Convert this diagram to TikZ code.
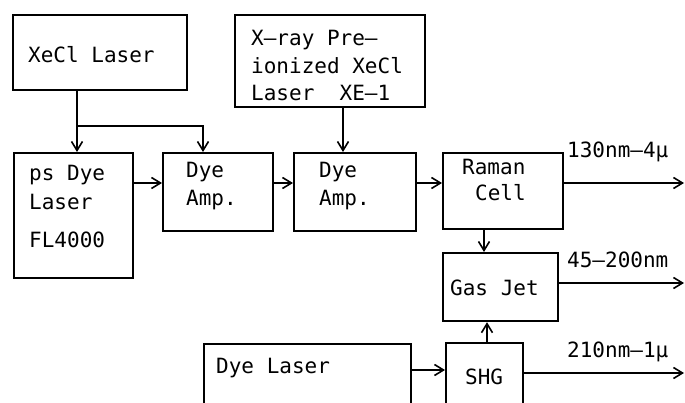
\documentclass[tikz,border=0pt]{standalone}
\usepackage{fontspec}
\setmonofont{DejaVu Sans Mono}
\usetikzlibrary{arrows.meta}
\begin{document}
\begin{tikzpicture}[x=1pt,y=-1pt,
  box/.style={draw,line width=2.2pt,inner sep=0pt,anchor=north west},
  txt/.style={anchor=west,inner sep=0pt,font=\ttfamily\fontsize{21}{25}\selectfont},
  conn/.style={line width=2pt,-{Straight Barb[length=9pt,width=11pt,line width=1.6pt]}}]
\useasboundingbox (0,0) rectangle (685,403);
% boxes
\node[box,minimum width=174pt,minimum height=75pt] (xecl) at (12,14) {};
\node[box,minimum width=119pt,minimum height=125pt] (ps) at (13,152) {};
\node[box,minimum width=110pt,minimum height=78pt] (amp1) at (162,152) {};
\node[box,minimum width=190pt,minimum height=92pt] (xray) at (234,14) {};
\node[box,minimum width=122pt,minimum height=78pt] (amp2) at (293,152) {};
\node[box,minimum width=120pt,minimum height=76pt] (raman) at (442,152) {};
\node[box,minimum width=115pt,minimum height=68pt] (gas) at (442,252) {};
\node[box,minimum width=77pt,minimum height=70pt] (shg) at (445,342) {};
\node[box,minimum width=207pt,minimum height=70pt] (dye) at (203,343) {};
% texts
\node[txt] (t1) at (28,55) {XeCl Laser};
\node[txt] (t2) at (29,175) {ps Dye};
\node[txt] (t3) at (29,202) {Laser};
\node[txt] (t4) at (29,240) {FL4000};
\node[txt] (t5) at (186,172) {Dye};
\node[txt] (t6) at (186,200) {Amp.};
\node[txt] (t7) at (251,40) {X–ray Pre–};
\node[txt] (t8) at (251,66) {ionized XeCl};
\node[txt] (t9) at (251,93) {Laser\ \ XE–1};
\node[txt] (t10) at (319,172) {Dye};
\node[txt] (t11) at (319,200) {Amp.};
\node[txt] (t12) at (462,167) {Raman};
\node[txt] (t13) at (475,193) {Cell};
\node[txt] (t14) at (450,288) {Gas Jet};
\node[txt] (t15) at (465,377) {SHG};
\node[txt] (t16) at (216,368) {Dye Laser};
\node[txt] (t17) at (567,152) {130nm–4μ};
\node[txt] (t18) at (567,260) {45–200nm};
\node[txt] (t19) at (567,352) {210nm–1μ};
% connectors
\coordinate (br) at (77,126);
\coordinate (o1) at (684,183);
\coordinate (o2) at (684,283);
\coordinate (o3) at (684,373);
\draw[conn] (xecl.south -| br) -- (ps.north -| br);
\draw[conn] (br) -- (203,126) -- (amp1.north -| 203,0);
\draw[conn] (ps.east |- 0,183) -- (amp1.west |- 0,183);
\draw[conn] (amp1.east |- 0,183) -- (amp2.west |- 0,183);
\draw[conn] (xray.south -| 343,0) -- (amp2.north -| 343,0);
\draw[conn] (amp2.east |- 0,183) -- (raman.west |- 0,183);
\draw[conn] (raman.east |- o1) -- (o1);
\draw[conn] (raman.south -| 484,0) -- (gas.north -| 484,0);
\draw[conn] (gas.east |- o2) -- (o2);
\draw[conn] (shg.north -| 487,0) -- (gas.south -| 487,0);
\draw[conn] (dye.east |- 0,370) -- (shg.west |- 0,370);
\draw[conn] (shg.east |- o3) -- (o3);
\end{tikzpicture}
\end{document}
